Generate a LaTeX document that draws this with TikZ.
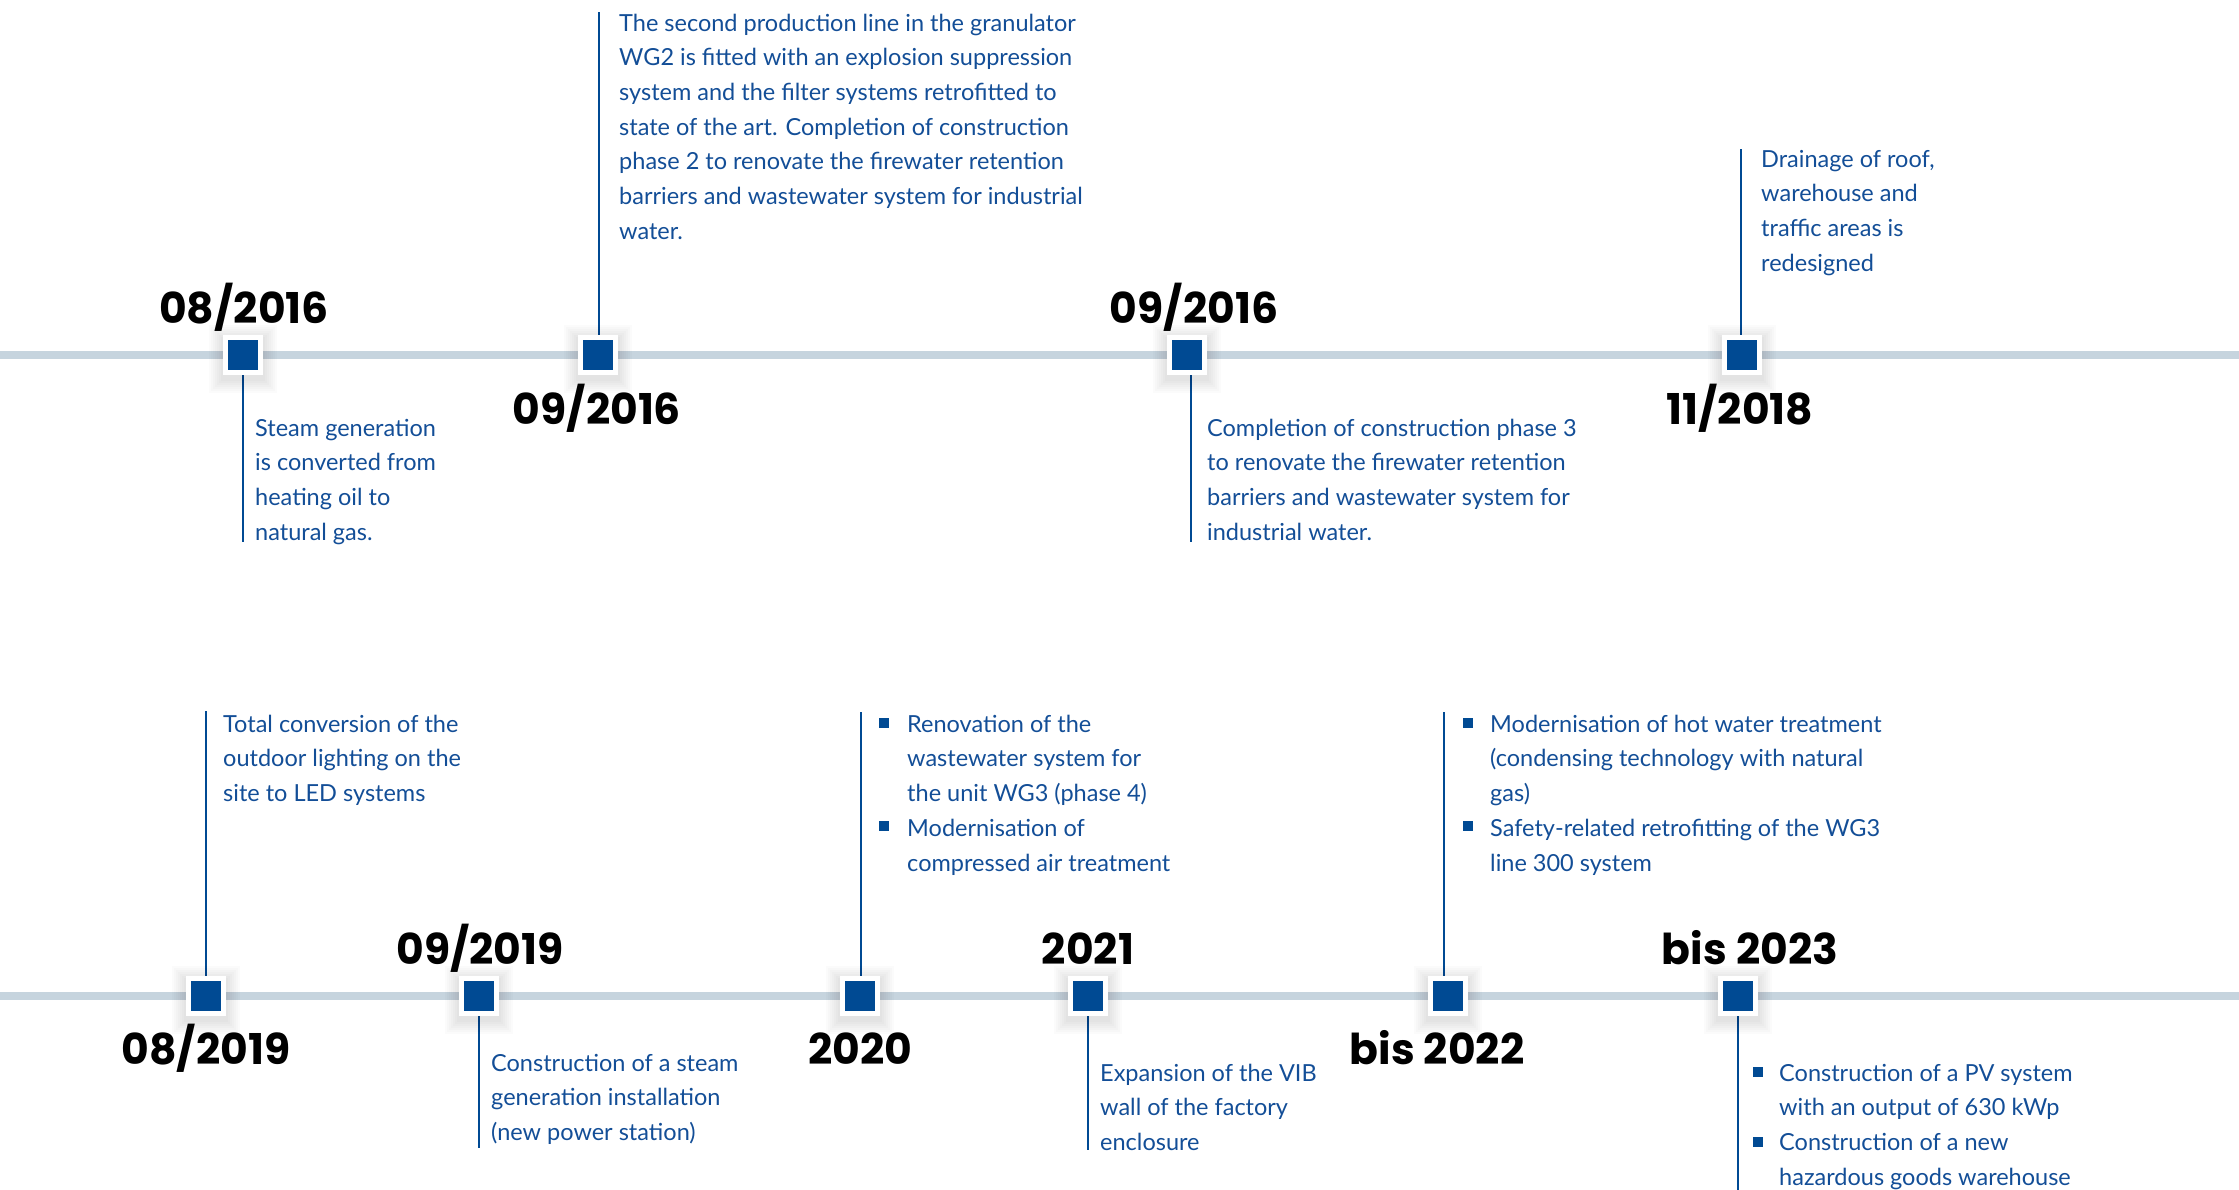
\documentclass[tikz,border=0pt]{standalone}
\usepackage{fontspec}
\setmainfont{Lato}
\newfontfamily\datefont{Poppins}
\definecolor{tlblue}{HTML}{004A93}
\definecolor{txtblue}{HTML}{134E97}
\definecolor{tlgray}{HTML}{C6D4DE}
\newcommand\tlstrut{\rule{0pt}{24pt}}
\newcommand\tlmark[3]{%
  \foreach \s in {2,4,...,14}{\fill[black,opacity=0.016] (#2-20-\s,#3-20-\s+4) rectangle (#2+20+\s,#3+20+\s+4);}
  \node[marker] (#1) at (#2,#3) {};}
\tikzset{
  axis/.style={draw=tlgray, line width=8pt},
  marker/.style={fill=tlblue, draw=white, line width=5pt, minimum size=35pt, inner sep=0pt, outer sep=0pt},
  conn/.style={draw=tlblue, line width=2.6pt},
  datelbl/.style={font=\datefont\bfseries\fontsize{42.5}{42.5}\selectfont, anchor=base, inner sep=0pt, text=black},
  desc/.style={anchor=north west, inner sep=0pt, align=left, text=txtblue, font=\fontsize{23.5}{34.7}\selectfont},
  bulletsq/.style={fill=tlblue, minimum size=10.5pt, inner sep=0pt},
}
\begin{document}
\begin{tikzpicture}[x=1pt,y=-1pt]
\useasboundingbox (0,0) rectangle (2239,1190);
% axes
\coordinate (a1l) at (0,355); \coordinate (a1r) at (2239,355);
\coordinate (a2l) at (0,996); \coordinate (a2r) at (2239,996);
\draw[axis] (a1l) -- (a1r);
\draw[axis] (a2l) -- (a2r);
% connector end points
\coordinate (e1) at (243,542);
\coordinate (e2) at (599,12);
\coordinate (e3) at (1191,542);
\coordinate (e4) at (1741,149);
\coordinate (e5) at (206,711);
\coordinate (e6) at (479,1148);
\coordinate (e7) at (861,712);
\coordinate (e8) at (1088,1150);
\coordinate (e9) at (1444,712);
\coordinate (e10) at (1738,1190);
\draw[conn] (243,355) -- (e1);
\draw[conn] (599,355) -- (e2);
\draw[conn] (1191,355) -- (e3);
\draw[conn] (1741,355) -- (e4);
\draw[conn] (206,996) -- (e5);
\draw[conn] (479,996) -- (e6);
\draw[conn] (861,996) -- (e7);
\draw[conn] (1088,996) -- (e8);
\draw[conn] (1444,996) -- (e9);
\draw[conn] (1738,996) -- (e10);
% markers
\tlmark{m1}{243}{355}
\tlmark{m2}{598}{355}
\tlmark{m3}{1187}{355}
\tlmark{m4}{1742}{355}
\tlmark{m5}{206}{996}
\tlmark{m6}{479}{996}
\tlmark{m7}{860}{996}
\tlmark{m8}{1088}{996}
\tlmark{m9}{1448}{996}
\tlmark{m10}{1738}{996}
% dates
\node[datelbl] (d1) at (244,324) {08/2016};
\node[datelbl] (d2) at (597,424) {09/2016};
\node[datelbl] (d3) at (1194,324) {09/2016};
\node[datelbl] (d4) at (1740,424) {11/2018};
\node[datelbl] (d5) at (206,1064) {08/2019};
\node[datelbl] (d6) at (480,964) {09/2019};
\node[datelbl] (d7) at (860,1064) {2020};
\node[datelbl] (d8) at (1088,964) {2021};
\node[datelbl] (d9) at (1437,1064) {bis 2022};
\node[datelbl] (d10) at (1750,964) {bis 2023};
% descriptions
\node[desc] (t1) at (255,412) {\tlstrut Steam generation\\is converted from\\heating oil to\\natural gas.};
\node[desc] (t2) at (619,7) {\tlstrut The second production line in the granulator\\WG2 is fitted with an explosion suppression\\system and the filter systems retrofitted to\\state of the art. Completion of construction\\phase 2 to renovate the firewater retention\\barriers and wastewater system for industrial\\water.};
\node[desc] (t3) at (1207,412) {\tlstrut Completion of construction phase 3\\to renovate the firewater retention\\barriers and wastewater system for\\industrial water.};
\node[desc] (t4) at (1761,143) {\tlstrut Drainage of roof,\\warehouse and\\traffic areas is\\redesigned};
\node[desc] (t5) at (223,708) {\tlstrut Total conversion of the\\outdoor lighting on the\\site to LED systems};
\node[desc] (t6) at (491,1047) {\tlstrut Construction of a steam\\generation installation\\(new power station)};
\node[desc] (t7) at (907,708) {\tlstrut Renovation of the\\wastewater system for\\the unit WG3 (phase 4)\\Modernisation of\\compressed air treatment};
\node[desc] (t8) at (1100,1057) {\tlstrut Expansion of the VIB\\wall of the factory\\enclosure};
\node[desc] (t9) at (1490,708) {\tlstrut Modernisation of hot water treatment\\(condensing technology with natural\\gas)\\Safety-related retrofitting of the WG3\\line 300 system};
\node[desc] (t10) at (1779,1057) {\tlstrut Construction of a PV system\\with an output of 630 kWp\\Construction of a new\\hazardous goods warehouse};
% bullets
\node[bulletsq] (b1) at (884,723) {};
\node[bulletsq] (b2) at (884,826) {};
\node[bulletsq] (b3) at (1468,723) {};
\node[bulletsq] (b4) at (1468,826) {};
\node[bulletsq] (b5) at (1758,1072) {};
\node[bulletsq] (b6) at (1758,1142) {};
\end{tikzpicture}
\end{document}
